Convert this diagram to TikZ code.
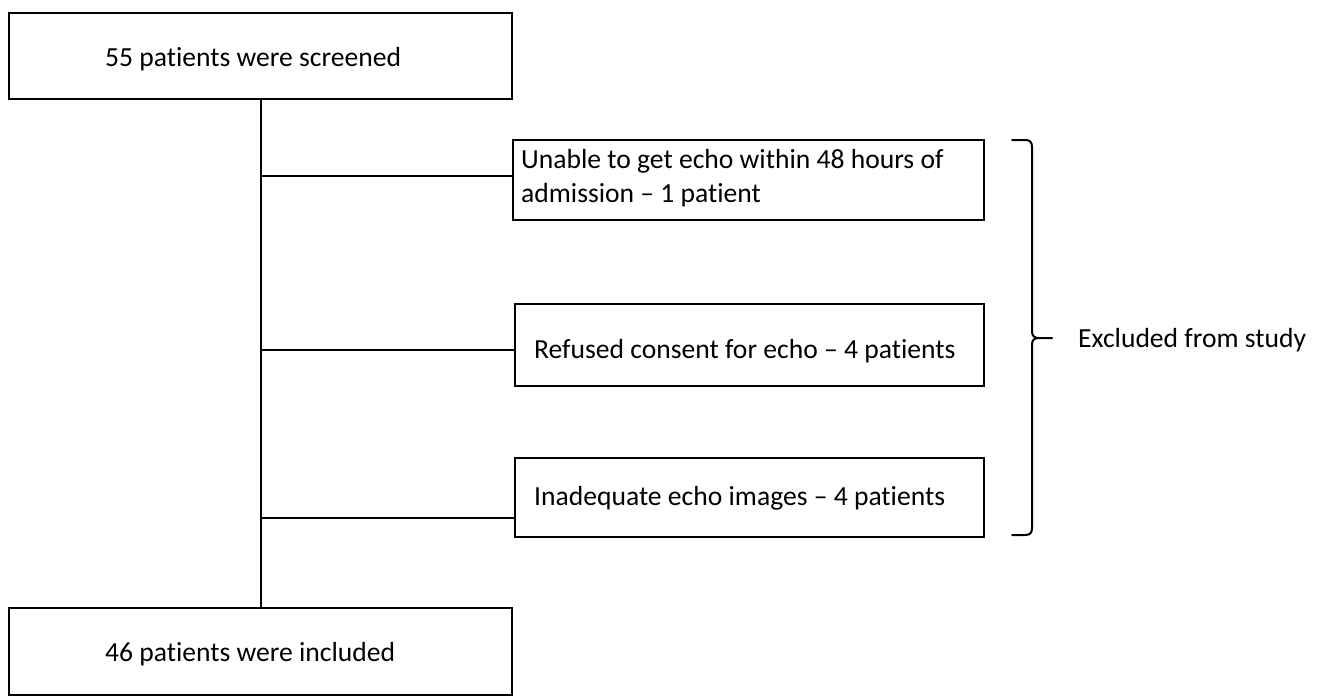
\documentclass[tikz,border=0pt]{standalone}
\usepackage{fontspec}
\setmainfont[Ligatures={NoCommon}]{Carlito}
\begin{document}
\begin{tikzpicture}[x=1pt,y=-1pt,
  box/.style={draw, line width=2pt, inner sep=0pt, anchor=north west},
  txt/.style={inner sep=0pt, font=\fontsize{27.6}{33.5}\selectfont, anchor=base west},
  conn/.style={line width=2pt}]
\useasboundingbox (0,0) rectangle (1318,696);
% boxes
\node[box, minimum width=503pt, minimum height=86pt] (top) at (8,12) {};
\node[box, minimum width=471pt, minimum height=80pt] (b1) at (512,139) {};
\node[box, minimum width=469pt, minimum height=82pt] (b2) at (514,303) {};
\node[box, minimum width=469pt, minimum height=79pt] (b3) at (514,457) {};
\node[box, minimum width=503pt, minimum height=87pt] (bot) at (8,607) {};
% texts
\node[txt] (t0) at (105,66) {55 patients were screened};
\node[txt, align=left] (t1) at (521,202) {Unable to get echo within 48 hours of\\admission – 1 patient};
\node[txt] (t2) at (534,358) {Refused consent for echo – 4 patients};
\node[txt] (t3) at (534,505) {Inadequate echo images – 4 patients};
\node[txt] (t4) at (105,661) {46 patients were included};
\node[txt] (t5) at (1078,347) {Excluded from study};
% connectors
\draw[conn] (top.south) -- (bot.north);
\coordinate (j1) at (259.5,176);
\coordinate (j2) at (259.5,350);
\coordinate (j3) at (259.5,518);
\draw[conn] (j1) -- (j1 -| b1.west);
\draw[conn] (j2) -- (j2 -| b2.west);
\draw[conn] (j3) -- (j3 -| b3.west);
% brace
\coordinate (tip) at (1052,338);
\draw[conn, line cap=round, line join=round]
  (1012,140) -- (1025,140) .. controls (1030,140) and (1032,142) .. (1032,147)
  -- (1032,331) .. controls (1032,336) and (1034,338) .. (1039,338) -- (tip);
\draw[conn, line cap=round, line join=round]
  (1039,338) .. controls (1034,338) and (1032,340) .. (1032,345)
  -- (1032,528) .. controls (1032,533) and (1030,535) .. (1025,535) -- (1012,535);
\end{tikzpicture}
\end{document}
